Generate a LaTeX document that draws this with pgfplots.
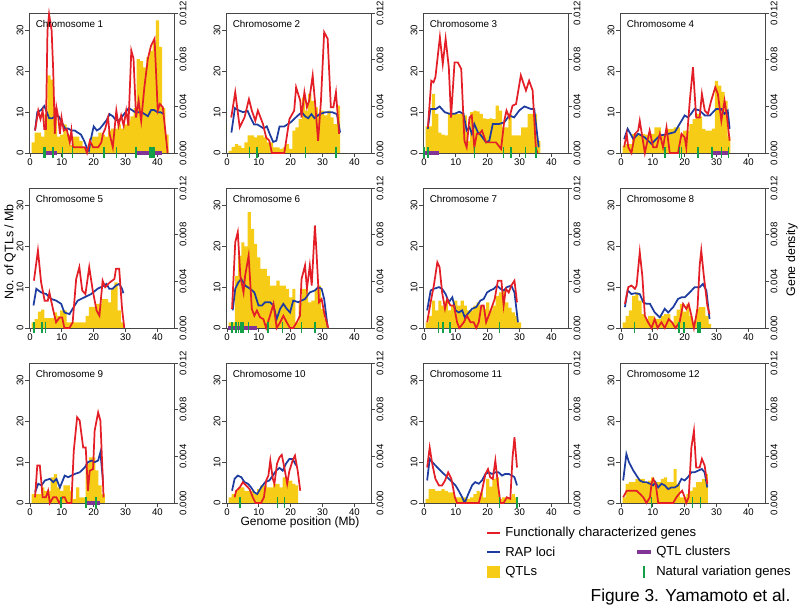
\documentclass[border=0pt]{standalone}
\usepackage{fontspec}
\setmainfont{Liberation Sans}
\usepackage{pgfplots}
\pgfplotsset{compat=1.18}

\definecolor{qtl}{RGB}{246,204,22}
\definecolor{fcg}{RGB}{228,30,38}
\definecolor{rap}{RGB}{30,60,160}
\definecolor{clu}{RGB}{128,52,150}
\definecolor{nvg}{RGB}{20,160,70}
\definecolor{frame}{RGB}{70,70,70}

\newcommand{\tickfont}{\fontsize{7.2}{8}\selectfont}
\newcommand{\titlefont}{\fontsize{7.4}{8.5}\selectfont}

\pgfplotsset{
  /pgf/number format/assume math mode=true,
  chrbase/.style={scale only axis, width=108.75pt, height=105pt,
    xmin=-0.3, xmax=45.2, anchor=north west},
  leftax/.style={chrbase, ymin=0, ymax=34.3,
    xtick={0,10,20,30,40}, ytick={0,10,20,30},
    xtick pos=bottom, ytick pos=left, tick align=outside,
    major tick length=3pt,
    every tick/.style={frame, line width=0.6pt},
    axis line style={frame, line width=0.6pt},
    ticklabel style={font=\tickfont},
    xticklabel style={inner sep=1pt},
    yticklabel style={rotate=90, anchor=south, inner sep=1pt}},
  rightax/.style={chrbase, ymin=0, ymax=0.012,
    axis x line=none, axis y line*=right,
    ytick={0,0.004,0.008,0.012}, scaled y ticks=false,
    tick align=outside, major tick length=3pt,
    every tick/.style={frame, line width=0.6pt},
    axis line style={frame, line width=0.6pt},
    yticklabel style={font=\tickfont, rotate=90, anchor=north, inner sep=1pt,
      /pgf/number format/.cd, fixed, fixed zerofill, precision=3}},
  topax/.style={chrbase, ymin=0, ymax=34.3, hide axis, clip=false},
}

\newcommand{\clusters}[1]{\addplot[clu, line width=3.6pt, unbounded coords=jump] coordinates {#1};}

% #1 x, #2 y (pt), #3 number, #4 QTL bars, #5 functional genes, #6 RAP density, #7 natural variation, #8 clusters
\newcommand{\chrpanel}[8]{%
  \begin{axis}[leftax, at={(#1pt,#2pt)}]
    \addplot[fill=qtl, draw=none, const plot mark left] coordinates {#4} \closedcycle;
  \end{axis}
  \begin{axis}[rightax, at={(#1pt,#2pt)}]
    \addplot[rap, line width=1.3pt] coordinates {#6};
  \end{axis}
  \begin{axis}[topax, at={(#1pt,#2pt)}]
    \addplot[fcg, line width=1.3pt] coordinates {#5};
    #8
    \addplot[nvg, only marks, mark=|, mark size=4pt, mark options={line width=1.2pt}] coordinates {#7};
    \node[anchor=north west, inner sep=0pt, font=\titlefont] at (rel axis cs:0.045,0.95) {Chromosome #3};
  \end{axis}}

\begin{document}
\begin{tikzpicture}
\useasboundingbox (0,0) rectangle (600pt,-456.75pt);

% Chromosome 1
\chrpanel{21.75}{-9.75}{1}
{(0.5,2.6)(1.5,5)(2.5,5)(3.5,4)(4.5,9.5)(5.5,19)(6.5,18)(7.5,10)(8.5,4)(9.5,4.5)(10.5,7)(11.5,4.5)(12.5,2)(13.5,4)(14.5,4)(15.5,3)(16.5,1.5)(17.5,1)(18.5,2)(19.5,4)(20.5,4)(21.5,5)(22.5,4.5)(23.5,4)(24.5,5.5)(25.5,6)(26.5,6)(27.5,7)(28.5,6)(29.5,7)(30.5,8)(31.5,9)(32.5,11)(33.5,23)(34.5,22.5)(35.5,21)(36.5,23.5)(37.5,25)(38.5,27)(39.5,32.5)(40.5,26)(41.5,11)(42.5,4.5)(43.5,0)}
{(1.6,5.5)(2.6,10.4)(3.3,8.3)(4.0,10.4)(4.5,5.9)(5.0,5.9)(5.5,30)(6.0,34)(6.8,30)(7.3,20.2)(7.8,4.7)(8.3,11.2)(8.9,8.7)(9.4,4.7)(9.9,8.7)(10.6,5.5)(11.5,5.9)(12.5,2.6)(13.0,5.5)(13.5,1.4)(15.6,1.4)(17.2,1.4)(17.9,0)(18.8,3)(19.8,1.4)(21.4,1.4)(22.4,2.6)(22.9,4.7)(23.6,5.9)(24.5,8.7)(25.0,4.7)(26.0,1.4)(27.1,10.4)(27.8,6.7)(28.6,9.2)(29.4,6.7)(30.2,10.4)(30.9,6.7)(31.8,25.1)(32.5,23.1)(33.3,8.7)(34.1,12.8)(34.9,7.9)(35.9,16.1)(37.0,23.1)(38.0,26.3)(39.1,28)(40.1,10.4)(40.8,12)(41.7,11.2)(43.2,0)}
{(1.6,0.00193)(2.3,0.0035)(3.5,0.00368)(4.5,0.00403)(5.3,0.0035)(6,0.00298)(7,0.00298)(8,0.00315)(9,0.00315)(10,0.00263)(11,0.0021)(12,0.0021)(13,0.00193)(14,0.00193)(15,0.00175)(16,0.00158)(17,0.00105)(18,0.00035)(18.5,0.00018)(19,0.00105)(20,0.00228)(21,0.00193)(22,0.0021)(23,0.00245)(24,0.0028)(25,0.00333)(26,0.00315)(27,0.0028)(28,0.0028)(29,0.00315)(30,0.0035)(31,0.00385)(32,0.00368)(33,0.0035)(34,0.0035)(35,0.0035)(36,0.00333)(37,0.00315)(38,0.00368)(39,0.00368)(40,0.0035)(41,0.0035)(42,0.00333)}
{(4.2,0.15)(4.7,0.15)(7.3,0.15)(10.2,0.15)(13.3,0.15)(23.2,0.15)(27.1,0.15)(33.2,0.15)(37.7,0.15)(38.1,0.15)(38.5,0.15)(38.9,0.15)}
{\clusters{(4.5,0)(8.5,0)(nan,nan)(33,0)(41.5,0)}}

% Chromosome 2
\chrpanel{169.5}{-9.75}{2}
{(0.5,0.5)(1.5,1.5)(2.5,2.2)(3.5,1.8)(4.5,1.2)(5.5,2.6)(6.5,4.3)(7.5,4.3)(8.5,3.8)(9.5,4.3)(10.5,4.3)(11.5,3.8)(12.5,2.6)(13.5,2.6)(14.5,1.4)(15.5,1.4)(16.5,1)(17.5,1.4)(18.5,2.2)(19.5,1)(20.5,5.5)(21.5,6.3)(22.5,8.3)(23.5,13.6)(24.5,10.4)(25.5,14.5)(26.5,12.8)(27.5,11.2)(28.5,9.2)(29.5,10.4)(30.5,9.2)(31.5,10.4)(32.5,8.7)(33.5,7.1)(34.5,11.6)(35.5,0)}
{(1.35,8.7)(2.6,14.9)(4.0,6.3)(5.5,8.7)(6.9,13.2)(7.8,10.4)(8.9,7.9)(9.7,10.4)(11.3,7.1)(12.3,3.8)(13.3,3)(14.1,0)(18,0)(19.6,8.3)(21.1,10.4)(21.7,16.1)(23,12.8)(23.4,8.7)(24.3,14.9)(25.1,11.2)(25.8,12.8)(26.9,19)(27.6,12.8)(28.6,3)(29.5,12.8)(30.5,29.6)(31.6,28)(32.6,11.2)(33.4,11.2)(34.2,14.9)(35.2,4.7)}
{(1.4,0.00175)(2.5,0.00385)(3.5,0.00368)(5,0.0035)(6.5,0.0036)(7.5,0.00298)(8.5,0.00245)(9.5,0.00245)(10.5,0.00228)(11.5,0.0021)(12.5,0.00228)(13.5,0.00158)(14.5,0.00095)(15.5,0.00105)(16.5,0.00228)(18,0.00228)(20,0.00263)(22,0.00315)(23.5,0.0035)(24.5,0.00315)(25.5,0.00298)(26.5,0.00333)(27.5,0.00298)(29,0.00333)(31,0.0035)(33,0.0035)(34.5,0.00333)(35.5,0.00175)}
{(7.1,0.15)(9.4,0.15)(24.6,0.15)(34.2,0.15)}
{}

% Chromosome 3
\chrpanel{317.25}{-9.75}{3}
{(0.5,6.5)(1.5,6.5)(2.5,14.5)(3.5,9.6)(4.5,5)(5.5,4.5)(6.5,4.3)(7.5,9.8)(8.5,9.8)(9.5,9.8)(10.5,9.5)(11.5,9.8)(12.5,9.2)(13.5,3)(14.5,10)(15.5,10.4)(16.5,10.2)(17.5,9.6)(18.5,8.5)(19.5,8.3)(20.5,8.5)(21.5,8.3)(22.5,11.6)(23.5,10.4)(24.5,6.3)(25.5,6.3)(26.5,9.6)(27.5,4.3)(28.5,4.3)(29.5,4.3)(30.5,6.3)(31.5,6.3)(32.5,9.6)(33.5,9.6)(34.5,9.6)(35.5,3)(36.5,0)}
{(1.25,6.3)(2.3,17.7)(3.0,17.3)(3.6,18.6)(5.0,28.4)(5.9,21.8)(6.8,28)(7.8,21)(8.5,8.7)(9.6,22.2)(10.6,22.2)(11.7,20.6)(12.7,3)(13.4,1.4)(14.3,8.7)(15,9.2)(15.8,1.4)(16.6,4.7)(17.4,4.7)(18.2,5.5)(19.5,2.6)(20.5,2.6)(22.6,2.6)(24.2,1)(25.2,7.9)(25.9,10.4)(26.8,8.7)(27.8,11.6)(28.9,12)(30.4,19)(32,15.3)(33,17.7)(34.1,15.3)(35.1,1.4)(35.6,0)}
{(1.2,0.00207)(2,0.00378)(3.8,0.00378)(4.9,0.00399)(6.5,0.0035)(8,0.00336)(9.6,0.00336)(11.1,0.00354)(12.4,0.00336)(13.4,0.00193)(14.3,0.00221)(15,0.00165)(15.8,0.00249)(16.9,0.00179)(17.9,0.00151)(19.5,0.00091)(20.5,0.00105)(21.6,0.00249)(23.6,0.00249)(25.2,0.00263)(26.8,0.00322)(28.3,0.00305)(29.9,0.00364)(31.5,0.00399)(33.5,0.00378)(34.6,0.00378)(36,0.00049)}
{(0,0.15)(1.25,0.15)(15.8,0.15)(25,0.15)(27.3,0.15)(31.8,0.15)(35.1,0.15)}
{\clusters{(0.2,0)(4.7,0)}}

% Chromosome 4
\chrpanel{465}{-9.75}{4}
{(0.5,1.8)(1.5,2.2)(2.5,2.2)(3.5,4.7)(4.5,4.7)(5.5,4.7)(6.5,4.7)(7.5,4.5)(8.5,5)(9.5,4.7)(10.5,6.3)(11.5,6.3)(12.5,4.3)(13.5,4.3)(14.5,5.9)(15.5,5.9)(16.5,6.3)(17.5,6.3)(18.5,4.7)(19.5,5.5)(20.5,5.5)(21.5,7.1)(22.5,8.3)(23.5,9.6)(24.5,9)(25.5,5.9)(26.5,5.5)(27.5,5.5)(28.5,6)(29.5,17.7)(30.5,16.5)(31.5,15)(32.5,12.8)(33.5,4)(34.3,0)}
{(1,1.4)(1.8,4.7)(2.3,1.4)(3.3,0)(4.4,4.7)(5.4,5.5)(5.9,7.9)(7.5,0)(9,5.5)(10.1,1.4)(11.2,1.4)(12.2,4.7)(13.2,1.4)(14.3,6.3)(15.3,0)(17.9,0)(19,4.7)(20,3.8)(20.5,1.4)(21.6,12.8)(22.6,21)(23.6,8.7)(24.7,8.7)(25.4,14.5)(26.3,10.4)(27.3,9.6)(28.3,12.8)(29.6,16.1)(30.4,14.5)(31.5,7.9)(32.5,12.8)(33.3,8.7)(34.1,3)}
{(1,0.00119)(2.1,0.00207)(3.9,0.00119)(5.4,0.00165)(7.5,0.00133)(9.6,0.00077)(12.2,0.00151)(14,0.00158)(16.9,0.00179)(18.4,0.00249)(20,0.00322)(21,0.00305)(22,0.00336)(23.1,0.00378)(24.7,0.00364)(26.3,0.00322)(27.9,0.00322)(29.9,0.00378)(31.5,0.00378)(32.5,0.00336)(33.5,0.00364)(34.1,0.00207)}
{(13.75,0.15)(18.4,0.15)(19,0.15)(24.2,0.15)(28.6,0.15)(31.5,0.15)(33.75,0.15)}
{\clusters{(28.9,0)(33.75,0)}}

% Chromosome 5
\chrpanel{21.75}{-141}{5}
{(0.5,1.4)(1.5,2.2)(2.5,4)(3.5,4.5)(4.5,2.4)(5.5,2.4)(6.5,2.4)(7.5,3.8)(8.5,3)(9.5,4.3)(10.5,4.3)(11.5,1.4)(12.5,1.4)(13.5,1.4)(14.5,1.4)(15.5,1.4)(16.5,1.4)(17.5,3)(18.5,5.2)(19.5,5.2)(20.5,5.9)(21.5,5.9)(22.5,7.1)(23.5,7.1)(24.5,6.3)(25.5,9.6)(26.5,11.2)(27.5,4.3)(28.5,1.4)(29.5,0)}
{(1.25,11.6)(2.5,19)(3.5,11.2)(4.6,6.7)(5.6,6.7)(6.1,8.7)(7.2,4.7)(8.2,1.4)(9.3,2.6)(10.1,2.6)(10.8,0)(12.4,0)(13.4,1.4)(14.5,12)(15.5,14.9)(16.4,9.2)(17.4,8.3)(18.6,14.9)(19.7,9.2)(20.9,4.3)(21.8,3)(22.8,11.6)(23.6,10)(25.1,11.2)(26.5,12)(27,14.5)(28,14.5)(28.9,4.7)(29.6,0)}
{(1.1,0.00193)(2,0.00336)(3.5,0.00305)(5.1,0.00291)(6.7,0.00249)(8.2,0.00235)(9.8,0.00207)(10.8,0.00133)(12.4,0.00119)(13.4,0.00165)(15,0.00235)(17.1,0.00263)(19.2,0.00291)(21.2,0.00336)(23.3,0.00364)(24,0.00378)(24.9,0.00336)(25.9,0.00336)(27,0.00364)(28,0.00378)(28.9,0.00336)(29.3,0.00298)}
{(1.25,0.15)(3.85,0.15)(4.9,0.15)}
{}

% Chromosome 6
\chrpanel{169.5}{-141}{6}
{(0.5,1.4)(1.5,1.4)(2.5,12.8)(3.5,17.7)(4.5,21)(5.5,20)(6.5,28.4)(7.5,24.3)(8.5,20.6)(9.5,17.3)(10.5,14.5)(11.5,14.5)(12.5,12.8)(13.5,10.4)(14.5,10.4)(15.5,11.6)(16.5,10.4)(17.5,10.4)(18.5,9.6)(19.5,7.5)(20.5,9.6)(21.5,1.4)(22.5,6.3)(23.5,9.6)(24.5,9.6)(25.5,6.3)(26.5,6.7)(27.5,9.6)(28.5,10.4)(29.5,4.7)(30.5,2.2)(31.5,0)}
{(1.6,4.7)(2.6,21)(3.4,23.5)(4.2,12.8)(5.2,8.7)(5.7,12.8)(6.8,17.7)(7.3,11.2)(7.8,4.7)(8.6,3)(9.4,4.3)(10.4,2.6)(11.4,2.2)(12.3,0)(13.5,3)(14.6,5.9)(15.6,0)(16.7,1.4)(17.7,3)(18.75,1.4)(19.8,0)(20.8,0)(21.9,1.4)(22.9,3)(23.4,12)(24.5,15.3)(25.1,9.6)(26,15.3)(26.6,10.4)(27.6,25.1)(28.1,18.6)(28.9,6.3)(29.7,7.1)(30.7,3)(31.8,0)}
{(1.8,0.00151)(2.6,0.00336)(3.6,0.00392)(4.5,0.0042)(5.7,0.00364)(7.3,0.00336)(8.6,0.00305)(9.9,0.00193)(11,0.00193)(12,0.00221)(13.5,0.00221)(14.6,0.00193)(15.6,0.00077)(16.7,0.00165)(17.7,0.00207)(18.75,0.00165)(19.8,0.00133)(20.8,0.00235)(22.4,0.00221)(23.4,0.00235)(24.5,0.00249)(26,0.00305)(27.6,0.00322)(28.6,0.0035)(29.7,0.00336)(30.5,0.00249)(31.6,0.00007)}
{(1.6,0.15)(2.9,0.15)(3.6,0.15)(4.2,0.15)(4.7,0.15)(5,0.15)(6.8,0.15)(12.8,0.15)(17.4,0.15)(23.4,0.15)(27.6,0.15)}
{\clusters{(0.3,0)(9.5,0)}}

% Chromosome 7
\chrpanel{317.25}{-141}{7}
{(0.5,1.4)(1.5,3)(2.5,6.7)(3.5,4.3)(4.5,6.7)(5.5,5.5)(6.5,6.7)(7.5,4.3)(8.5,5.5)(9.5,6.7)(10.5,5.5)(11.5,6.7)(12.5,5.5)(13.5,4.3)(14.5,4.3)(15.5,5.5)(16.5,6.3)(17.5,5.5)(18.5,4.7)(19.5,6.3)(20.5,4.3)(21.5,5.5)(22.5,7.9)(23.5,8.7)(24.5,9.2)(25.5,6.3)(26.5,5)(27.5,3.8)(28.5,3)(29.5,1.4)(30.5,0)}
{(1,1.4)(2.1,6.3)(3.1,10.4)(4.2,16.1)(4.9,14.9)(5.7,8.7)(6.6,4.7)(7.3,7.1)(8.3,5.5)(9.4,5.5)(10.4,1.4)(11.1,0)(12.5,1.4)(13.5,3)(14.6,1.4)(15.6,1.4)(16.4,0)(17.2,1.4)(18,5.5)(18.75,5.5)(19.5,1.4)(20.3,3)(21.1,4.7)(22.2,7.1)(23.2,11.6)(24.3,11.6)(25,5.5)(25.7,9.6)(26.6,8.7)(27.4,10.4)(28.4,11.6)(29.2,6.3)}
{(1,0.00151)(2.1,0.00322)(3.1,0.00336)(4.7,0.0035)(5.7,0.00336)(6.8,0.00291)(7.8,0.00221)(8.9,0.00263)(9.9,0.00151)(10.9,0.00133)(12,0.00151)(12.8,0.00091)(14.1,0.00133)(15.1,0.00165)(16.4,0.00179)(17.7,0.00235)(18.75,0.00249)(19.8,0.00305)(20.8,0.00322)(21.9,0.00336)(22.9,0.00364)(24,0.00336)(25,0.00322)(26,0.0035)(27.4,0.00364)(28.4,0.00305)(29.5,0.00049)}
{(4.5,0.15)(6,0.15)(8.1,0.15)(23.75,0.15)}
{}

% Chromosome 8
\chrpanel{465}{-141}{8}
{(0.5,1.4)(1.5,3)(2.5,4.3)(3.5,7.9)(4.5,8.7)(5.5,6.7)(6.5,3.4)(7.5,2.2)(8.5,3)(9.5,3)(10.5,2.2)(11.5,2.2)(12.5,3)(13.5,3.4)(14.5,3.4)(15.5,1.4)(16.5,3)(17.5,4.5)(18.5,5.9)(19.5,4)(20.5,5.9)(21.5,3)(22.5,1.4)(23.5,4.7)(24.5,5.1)(25.5,5.1)(26.5,3)(27.5,1)(28.3,0)}
{(1.25,5.9)(2.3,10)(3.3,10.4)(4.4,9.6)(4.9,10.4)(5.9,18.6)(6.7,12.8)(7.5,3)(8.5,1.4)(9.6,0)(10.6,2.2)(11.5,0)(12.7,1.4)(13.75,0)(15,2.2)(16,1.4)(17.1,0)(18.4,1.4)(19.5,5.9)(20.5,4.7)(21.25,5.9)(22.1,3)(22.9,0)(24,4.7)(24.7,15.3)(25.2,19)(26,12.8)(27.1,5.5)(27.8,3.4)}
{(1.25,0.00179)(2.1,0.00322)(3.3,0.00291)(4.4,0.00298)(5.9,0.00291)(7,0.00221)(8,0.00207)(9.1,0.00207)(10.6,0.00133)(12.2,0.00091)(13.75,0.00165)(14.8,0.00133)(16.4,0.00179)(17.9,0.00249)(19,0.00263)(20,0.00263)(21.6,0.00305)(23.1,0.0035)(24.7,0.0035)(25.7,0.00378)(26.8,0.00322)(27.8,0.00077)}
{(4.2,0.15)(18.2,0.15)(19.7,0.15)(24,0.15)(24.4,0.15)(24.9,0.15)}
{}

% Chromosome 9
\chrpanel{21.75}{-272.25}{9}
{(0.5,2.2)(1.5,2.2)(2.5,2.2)(3.5,3.8)(4.5,3)(5.5,3)(6.5,6.3)(7.5,7.1)(8.5,3.8)(9.5,3)(10.5,4.3)(11.5,4.3)(12.5,3)(13.5,1)(14.5,3.8)(15.5,1.4)(16.5,1.4)(17.5,9.6)(18.5,11.2)(19.5,11.2)(20.5,8)(21.5,4.3)(22.5,2.2)(23.5,0)}
{(1.6,1.4)(2.3,9.2)(3.1,9.2)(4,1.4)(5,1.4)(5.7,3)(6.25,0)(7.3,1.4)(8.3,1.4)(9.2,0)(10.2,1.4)(10.9,1.4)(11.7,0)(13,0)(13.75,12.8)(14.8,21)(15.6,20.2)(16.7,13.6)(17.5,13.6)(18.2,3)(18.75,7.9)(19.8,8.3)(20.3,17.7)(21.4,22.2)(22.1,20.2)(23.1,1.4)}
{(1.6,0.00091)(2.6,0.00165)(3.6,0.00151)(4.7,0.00193)(6.25,0.00207)(7.3,0.00179)(8.3,0.00207)(9.4,0.00133)(10.9,0.00235)(12,0.00221)(13,0.00235)(14.1,0.00249)(15.6,0.00263)(17.2,0.00305)(18.2,0.0035)(19.3,0.00364)(20.3,0.0035)(21.4,0.00364)(22.1,0.00434)(22.9,0.00193)}
{(9.7,0.15)(17.5,0.15)(20.8,0.15)}
{\clusters{(17.9,0)(22.1,0)}}

% Chromosome 10
\chrpanel{169.5}{-272.25}{10}
{(0.5,1.4)(1.5,2.2)(2.5,3)(3.5,3.8)(4.5,3.8)(5.5,3)(6.5,3)(7.5,3)(8.5,2.2)(9.5,3.4)(10.5,4.3)(11.5,4.3)(12.5,3.8)(13.5,3.8)(14.5,4.7)(15.5,4.7)(16.5,3.8)(17.5,6.3)(18.5,5.5)(19.5,5.5)(20.5,4.7)(21.5,4.3)(22.3,0)}
{(2.4,1.4)(2.9,3)(4,3.8)(5,5.1)(6,4.3)(7.1,3.4)(8.1,1.4)(9,0)(10.7,0)(11.6,1.4)(12.3,5.5)(13,6.7)(13.6,10.4)(14.4,5.9)(14.9,4.7)(15.7,9.6)(16.5,11.2)(17.2,11.8)(18,8.7)(18.9,4.7)(19.6,7.9)(20.6,10.4)(21.35,11.6)(22.2,7.9)(23,3)}
{(1.6,0.00105)(2.4,0.00207)(3.4,0.00235)(4.5,0.00221)(5.5,0.00179)(6.6,0.00165)(7.6,0.00133)(8.6,0.00091)(9.5,0.00077)(10.7,0.00133)(12,0.00179)(13.3,0.00193)(14.4,0.00235)(15.4,0.00277)(16.5,0.00301)(17.5,0.00277)(18.5,0.00336)(19.6,0.00378)(20.6,0.00378)(21.7,0.00322)}
{(4,0.15)(15.9,0.15)(18,0.15)}
{}

% Chromosome 11
\chrpanel{317.25}{-272.25}{11}
{(0.5,1)(1.5,3.4)(2.5,3.4)(3.5,3)(4.5,3)(5.5,3.4)(6.5,3)(7.5,2.6)(8.5,2.6)(9.5,1.4)(10.5,1.4)(11.5,1.4)(12.5,1.4)(13.5,1)(14.5,1.4)(15.5,2.2)(16.5,3)(17.5,2.6)(18.5,1.4)(19.5,5.9)(20.5,4)(21.5,5.9)(22.5,6.3)(23.5,1)(24.5,1.4)(25.5,1.4)(26.5,1.4)(27.5,2.2)(28.5,1.4)(29.5,0)}
{(1,8.7)(1.8,13.6)(2.6,9.6)(3.6,5.9)(4.7,4.3)(5.7,4.3)(6.6,5.5)(7.6,7.5)(8.6,5.9)(9.7,1.4)(10.4,0)(17.2,0)(18.2,3)(19.3,7.1)(20.1,8.3)(20.8,6.3)(21.6,5.9)(22.4,10.4)(23.2,4.7)(24,0)(25,0)(26,1.4)(27.1,1)(27.8,11.2)(28.4,16.1)(29.2,8.7)}
{(1,0.00193)(1.8,0.00378)(2.6,0.0035)(3.6,0.00322)(4.7,0.00291)(5.7,0.00263)(6.8,0.00235)(7.8,0.00207)(8.9,0.00179)(9.9,0.00151)(10.9,0.00105)(12,0.00049)(12.8,0)(13.9,0.00077)(15.1,0.00151)(16.1,0.00179)(17.2,0.00165)(18.2,0.00193)(19.3,0.00249)(20.3,0.00263)(21.4,0.00249)(22.4,0.00263)(23.4,0.00263)(24.5,0.00235)(25.5,0.00249)(26.6,0.00249)(27.6,0.00235)(28.4,0.00221)(29.2,0.00151)}
{(23.75,0.15)(29.2,0.15)}
{}

% Chromosome 12
\chrpanel{465}{-272.25}{12}
{(0.5,1.4)(1.5,4.7)(2.5,5.1)(3.5,5.1)(4.5,5.9)(5.5,5.9)(6.5,5.9)(7.5,5.1)(8.5,5.5)(9.5,6.3)(10.5,5.1)(11.5,5.1)(12.5,5.9)(13.5,6.3)(14.5,5.1)(15.5,5.1)(16.5,8.3)(17.5,4.7)(18.5,1.4)(19.5,1.4)(20.5,2.2)(21.5,3)(22.5,3.8)(23.5,5.1)(24.5,5.1)(25.5,5.9)(26.5,7.1)(27.3,0)}
{(0.7,1.4)(1.8,3)(3.3,3)(4.9,3)(6,2.2)(7,1.4)(8,0)(9.1,1.4)(9.6,4.7)(10.1,5.9)(10.9,4.7)(11.7,0)(16.4,0)(17.4,1.4)(18.2,2.2)(19.2,3)(20,1.4)(20.5,0)(21.25,1.4)(22.1,13.6)(22.9,17.7)(23.6,8.7)(24.7,8.7)(25.4,10.8)(26.25,9.2)(27.1,4.7)}
{(0.7,0.00193)(1.7,0.0042)(2.5,0.0035)(3.9,0.00277)(4.9,0.00235)(5.9,0.00193)(7,0.00179)(8,0.00179)(9.1,0.00165)(10.1,0.00151)(10.8,0.00179)(11.7,0.00133)(12.7,0.00165)(13.75,0.00151)(14.8,0.00119)(15.8,0.00133)(16.9,0.00133)(17.9,0.00151)(19,0.00207)(20,0.00193)(21,0.00221)(22.1,0.00263)(23.1,0.00263)(24.2,0.00277)(25.4,0.00291)(26.25,0.00263)(27.1,0.00133)}
{(9.6,0.15)(22.4,0.15)(25,0.15)}
{}

% shared axis titles
\node[rotate=90, font=\fontsize{9.3}{11}\selectfont] at (7.5pt,-189pt) {No. of QTLs / Mb};
\node[rotate=90, font=\fontsize{9.3}{11}\selectfont] at (594pt,-195pt) {Gene density};
\node[font=\fontsize{9}{11}\selectfont] at (225pt,-391.5pt) {Genome position (Mb)};

% legend
\begin{scope}[font=\fontsize{9.8}{12}\selectfont]
  \draw[fcg, line width=1.6pt] (365.25pt,-399.75pt) -- (375pt,-399.75pt);
  \node[anchor=west, inner sep=0pt] at (378.75pt,-399.75pt) {Functionally characterized genes};
  \draw[rap, line width=1.6pt] (365.25pt,-414pt) -- (375pt,-414pt);
  \node[anchor=west, inner sep=0pt] at (378.75pt,-414pt) {RAP loci};
  \fill[qtl] (365.25pt,-424.5pt) rectangle (375pt,-433.5pt);
  \node[anchor=west, inner sep=0pt] at (378.75pt,-429pt) {QTLs};
  \draw[clu, line width=3pt] (477.75pt,-414pt) -- (488.25pt,-414pt);
  \node[anchor=west, inner sep=0pt] at (492pt,-414pt) {QTL clusters};
  \draw[nvg, line width=1.5pt] (483pt,-424.5pt) -- (483pt,-433.5pt);
  \node[anchor=west, inner sep=0pt] at (492pt,-429pt) {Natural variation genes};
\end{scope}
\node[anchor=east, inner sep=0pt, font=\fontsize{13}{15}\selectfont] at (593pt,-447.75pt) {Figure 3. Yamamoto et al.};
\end{tikzpicture}
\end{document}
